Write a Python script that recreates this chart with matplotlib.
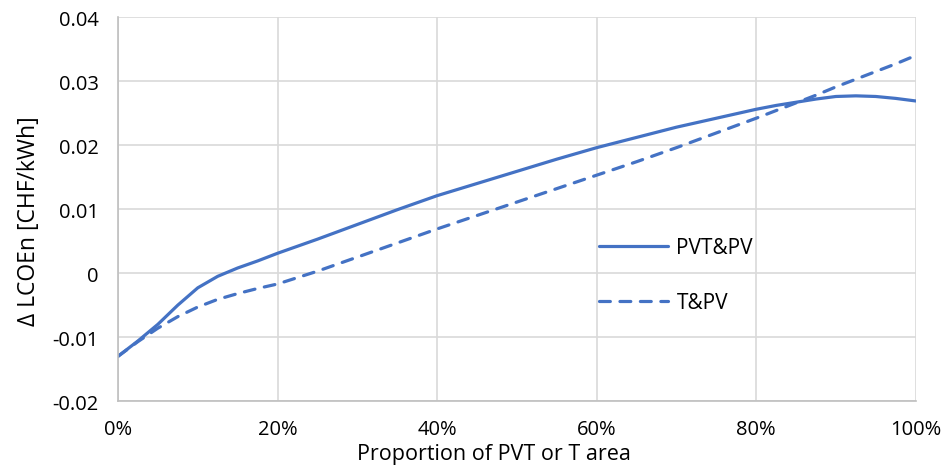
import matplotlib.pyplot as plt

# proportion of PVT or T area (fraction)
share = [0.000, 0.025, 0.050, 0.075, 0.100, 0.125, 0.150, 0.175, 0.200,
         0.250, 0.300, 0.350, 0.400, 0.450, 0.500, 0.550, 0.600, 0.650,
         0.700, 0.750, 0.800, 0.825, 0.850, 0.875, 0.900, 0.925, 0.950,
         0.975, 1.000]
pvt_pv = [-0.0130, -0.0106, -0.0080, -0.0050, -0.0023, -0.0005, 0.0008, 0.0019,
          0.0031, 0.0053, 0.0076, 0.0099, 0.0121, 0.0140, 0.0159, 0.0178,
          0.0196, 0.0212, 0.0228, 0.0242, 0.0256, 0.0262, 0.0267, 0.0272,
          0.0276, 0.0277, 0.0276, 0.0273, 0.0269]
t_pv = [-0.0130, -0.0107, -0.0086, -0.0068, -0.0053, -0.0041, -0.0032, -0.0024,
        -0.0017, 0.0003, 0.0025, 0.0047, 0.0069, 0.0090, 0.0111, 0.0132,
        0.0153, 0.0174, 0.0196, 0.0219, 0.0242, 0.0254, 0.0266, 0.0278,
        0.0291, 0.0303, 0.0315, 0.0327, 0.0340]

yticks = [-0.02, -0.01, 0, 0.01, 0.02, 0.03, 0.04]
ylabels = ['-0.02', '-0.01', '0', '0.01', '0.02', '0.03', '0.04']
xticks = [0, 0.2, 0.4, 0.6, 0.8, 1.0]
xlabels = ['0%', '20%', '40%', '60%', '80%', '100%']

plt.rcParams['font.family'] = ['Open Sans', 'DejaVu Sans']
blue = '#4472C4'

fig = plt.figure(figsize=(9.44, 4.77), dpi=100)
ax = fig.add_axes([0.125, 0.157, 0.845, 0.805])

ax.plot(share, pvt_pv, color=blue, lw=2.3, label='PVT&PV',
        solid_capstyle='round', solid_joinstyle='round')
ax.plot(share, t_pv, color=blue, lw=2.3, label='T&PV', linestyle=(0, (3.4, 3.0)),
        dash_capstyle='round')

ax.set_xlim(0, 1)
ax.set_ylim(-0.02, 0.04)
ax.set_xticks(xticks)
ax.set_xticklabels(xlabels)
ax.set_yticks(yticks)
ax.set_yticklabels(ylabels)
ax.tick_params(length=0, labelsize=14.5, colors='#000000')
ax.tick_params(axis='y', pad=14)
ax.tick_params(axis='x', pad=13)
ax.grid(True, color='#d9d9d9', lw=1.2)
ax.set_axisbelow(True)
for s in ['top', 'right']:
    ax.spines[s].set_visible(False)
for s in ['left', 'bottom']:
    ax.spines[s].set_color('#bfbfbf')
    ax.spines[s].set_linewidth(1.2)

ax.set_xlabel('Proportion of PVT or T area', fontsize=15.5, labelpad=3)
ax.set_ylabel('Δ LCOEn [CHF/kWh]', fontsize=16.5, labelpad=8)
ax.xaxis.label.set_x(0.471)
ax.yaxis.label.set_y(0.471)

ax.legend(loc='upper left', bbox_to_anchor=(0.58, 0.475), frameon=False,
          fontsize=15, handlelength=3.3, handletextpad=0.4, labelspacing=1.6)

fig.savefig('out.png', dpi=100)
